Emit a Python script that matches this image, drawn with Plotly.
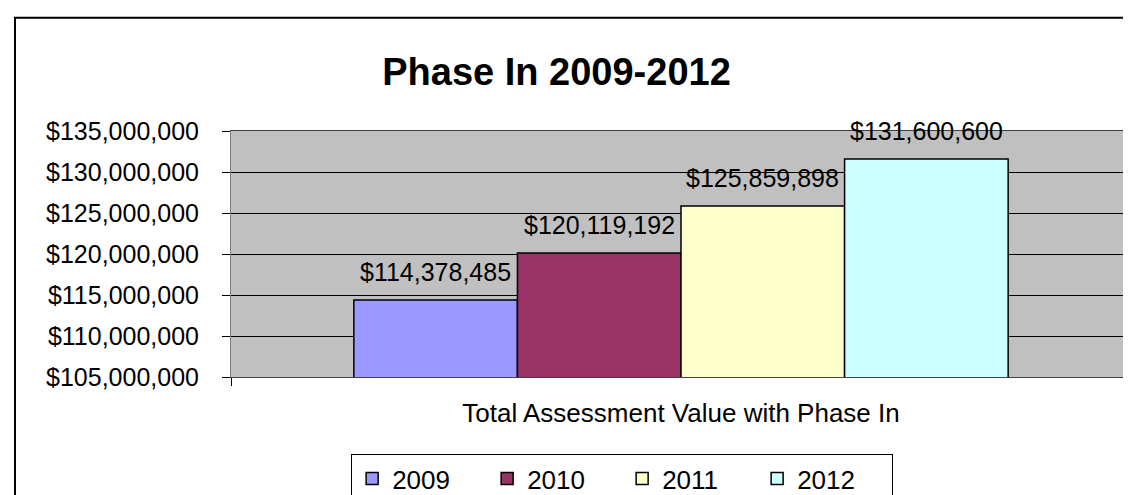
import plotly.graph_objects as go

category = ["Total Assessment Value with Phase In"]
years = ["2009", "2010", "2011", "2012"]
values = [114378485, 120119192, 125859898, 131600600]
colors = ["#9999FF", "#993366", "#FFFFCC", "#CCFFFF"]
y_ticks = [105000000, 110000000, 115000000, 120000000, 125000000, 130000000, 135000000]

FONT = "Liberation Sans, Arial, sans-serif"
BARGAP = 0.273
FS = 25

fig = go.Figure()
for yr, v, c in zip(years, values, colors):
    fig.add_trace(go.Bar(
        x=category, y=[v], name=yr,
        marker=dict(color=c, line=dict(color="black", width=1.5)),
    ))

# data labels above each bar, positioned from the data
n = len(years)
bw = (1 - BARGAP) / n
annotations = []
for i, v in enumerate(values):
    xc = -(1 - BARGAP) / 2 + bw * (i + 0.5)
    annotations.append(dict(
        x=xc, y=v, xref="x", yref="y", text="${:,.0f}".format(v),
        showarrow=False, yanchor="bottom", yshift=12,
        font=dict(family=FONT, size=FS, color="black"),
    ))

fig.update_layout(
    width=1131, height=495,
    margin=dict(l=223, r=8, t=123, b=126),
    paper_bgcolor="white",
    plot_bgcolor="#C0C0C0",
    barmode="group",
    bargap=BARGAP,
    bargroupgap=0,
    font=dict(family=FONT, size=FS, color="black"),
    title=dict(
        text="<b>Phase In 2009-2012</b>",
        font=dict(family=FONT, size=38, color="black"),
        x=0.485, xanchor="center", xref="container",
        y=0.872, yanchor="middle", yref="container",
    ),
    showlegend=True,
    legend=dict(
        orientation="h",
        xref="container", yref="container",
        x=0.543, xanchor="center", y=0.0, yanchor="bottom",
        bordercolor="black", borderwidth=1, bgcolor="white",
        font=dict(family=FONT, size=26, color="black"),
        entrywidth=90,
        traceorder="normal",
    ),
    annotations=annotations,
    shapes=[dict(
        type="rect", xref="paper", yref="paper",
        x0=-0.24, x1=1.2, y0=-0.6, y1=1.46,
        line=dict(color="black", width=2), fillcolor="rgba(0,0,0,0)",
        layer="below",
    )],
)

fig.update_yaxes(
    range=[y_ticks[0], y_ticks[-1]],
    tickvals=y_ticks,
    tickformat="$,.0f",
    showgrid=True, gridcolor="black", gridwidth=1,
    showline=True, linecolor="#808080", linewidth=1, mirror=True,
    ticks="outside", ticklen=8, tickcolor="black",
    tickfont=dict(family=FONT, size=FS, color="black"),
    ticklabelstandoff=18,
    zeroline=False,
)
fig.update_xaxes(
    showline=True, linecolor="#404040", linewidth=1, mirror=True,
    ticks="outside", tickson="boundaries", ticklen=8, tickcolor="black",
    tickfont=dict(family=FONT, size=26, color="black"),
    ticklabelstandoff=13,
)

fig.write_html("out.html")
